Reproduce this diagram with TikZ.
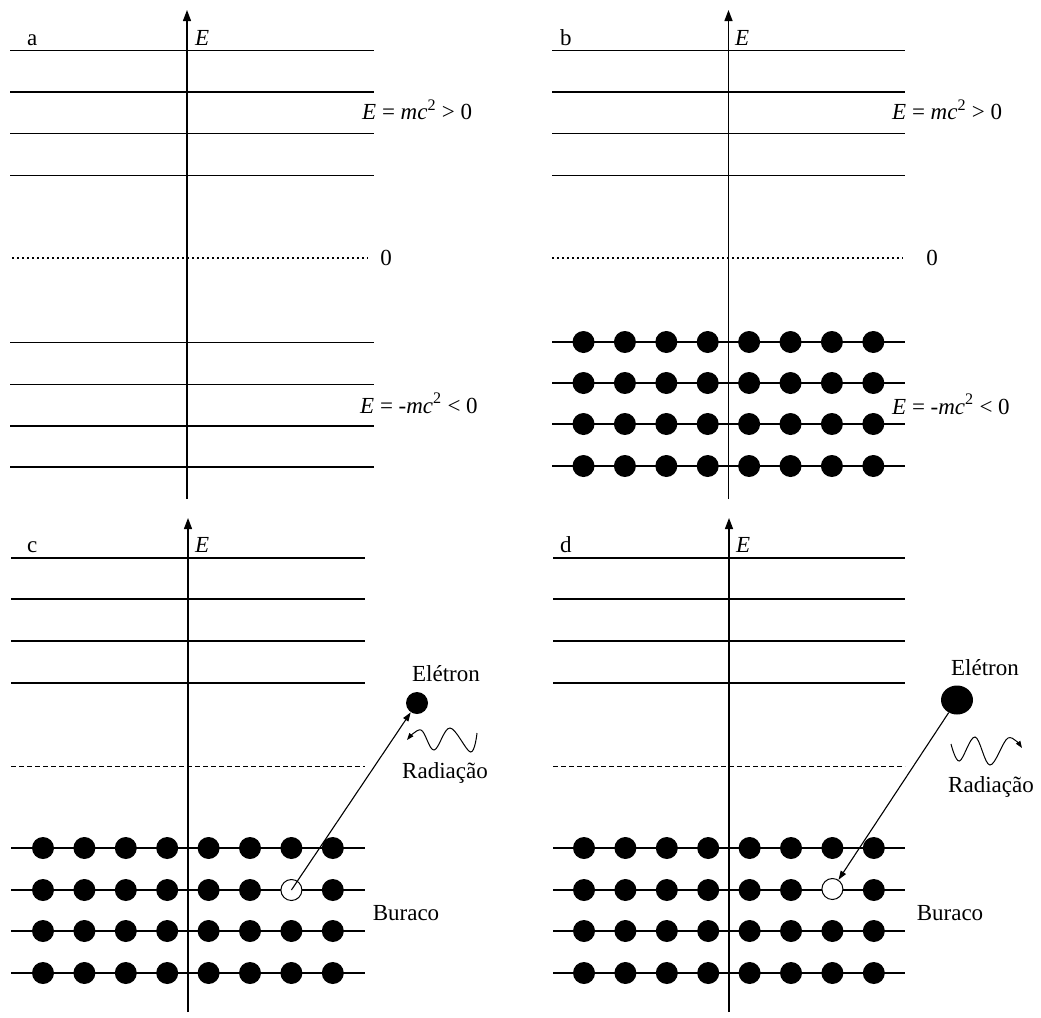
\documentclass[tikz,border=0pt]{standalone}
\usepackage{fontspec}
\setmainfont{Liberation Serif}
\usetikzlibrary{arrows.meta,shapes.geometric}
\begin{document}
\begin{tikzpicture}[x=1pt,y=-1pt,
  level/.style={line width=1.3pt},
  axisline/.style={line width=1.3pt,-{Triangle[width=8pt,length=11pt]}},
  zeroline/.style={line width=1.1pt,dash pattern=on 2pt off 3pt},
  vacline/.style={line width=0.9pt,dash pattern=on 5pt off 3pt},
  particle/.style={circle,fill=black,inner sep=0pt,minimum size=22pt},
  holeb/.style={circle,draw,fill=white,line width=1pt,inner sep=0pt,minimum size=21pt},
  lbl/.style={inner sep=0pt,font=\fontsize{23}{27}\selectfont},
  transition/.style={line width=1.1pt,-{Triangle[width=6pt,length=9pt]}},
  wave/.style={line width=1pt,-{Triangle[width=5pt,length=7pt]}},
]
\useasboundingbox (0,0) rectangle (1041,1017);

% ---------------- panel a ----------------
\foreach \y in {50.5,92,133.5,175.5,342.5,384.5,426,467}
  \draw[level] (10,\y) -- (374,\y);
\draw[zeroline] (12,258) -- (368,258);
\coordinate (a-bot) at (187,499);
\coordinate (a-top) at (187,10);
\draw[axisline] (a-bot) -- (a-top);
\node[lbl,anchor=base west] (a-lab) at (27,45) {a};
\node[lbl,anchor=base west] (a-E) at (195,45) {\textit{E}};
\node[lbl,anchor=base west] (a-pos) at (362,119.5) {\textit{E} = \textit{mc}\textsuperscript{2} > 0};
\node[lbl,anchor=base west] (a-neg) at (360,413) {\textit{E} = -\textit{mc}\textsuperscript{2} < 0};
\node[lbl] (a-zero) at (386,258) {0};

% ---------------- panel b ----------------
\foreach \y in {50.5,92,133.5,175.5,342,383,424,466}
  \draw[level] (552,\y) -- (905,\y);
\draw[zeroline] (552,258) -- (903,258);
\coordinate (b-bot) at (728.5,499);
\coordinate (b-top) at (728.5,10);
\draw[axisline] (b-bot) -- (b-top);
\foreach \r/\y in {1/342,2/383,3/424,4/466}
  \foreach \c in {0,...,7}
    \node[particle] (b-\r-\c) at ({583.5+41.4*\c},\y) {};
\node[lbl,anchor=base west] (b-lab) at (560,45) {b};
\node[lbl,anchor=base west] (b-E) at (735,45) {\textit{E}};
\node[lbl,anchor=base west] (b-pos) at (892,119.5) {\textit{E} = \textit{mc}\textsuperscript{2} > 0};
\node[lbl,anchor=base west] (b-neg) at (892,414) {\textit{E} = -\textit{mc}\textsuperscript{2} < 0};
\node[lbl] (b-zero) at (932,258) {0};

% ---------------- panel c ----------------
\foreach \y in {558,599,641,683,848,890,931,973}
  \draw[level] (11,\y) -- (365,\y);
\draw[vacline] (11,766) -- (365,766);
\coordinate (c-bot) at (188,1012);
\coordinate (c-top) at (188,518);
\draw[axisline] (c-bot) -- (c-top);
\foreach \r/\y in {1/848,2/890,3/931,4/973}
  \foreach \c in {0,...,7}{
    \ifnum\r=2 \ifnum\c=6 \else
      \node[particle] (c-\r-\c) at ({43+41.4*\c},\y) {};
    \fi\else
      \node[particle] (c-\r-\c) at ({43+41.4*\c},\y) {};
    \fi}
\node[holeb] (c-hole) at (291.4,890) {};
\node[particle] (c-el) at (417,703) {};
\draw[transition] (c-hole.center) -- (c-el);
\draw[wave] plot[smooth,tension=0.6] coordinates {(477,733) (470.5,752) (450,728) (434,750) (421,730) (407,740)};
\node[lbl,anchor=base west] (c-lab) at (27,552) {c};
\node[lbl,anchor=base west] (c-E) at (195,552) {\textit{E}};
\node[lbl,anchor=base] (c-eltxt) at (446,681) {Elétron};
\node[lbl,anchor=base] (c-radtxt) at (445,778) {Radiação};
\node[lbl,anchor=base] (c-burtxt) at (406,920) {Buraco};

% ---------------- panel d ----------------
\foreach \y in {558,599,641,683,848,890,931,973}
  \draw[level] (553,\y) -- (905,\y);
\draw[vacline] (553,766) -- (905,766);
\coordinate (d-bot) at (729,1012);
\coordinate (d-top) at (729,518);
\draw[axisline] (d-bot) -- (d-top);
\foreach \r/\y in {1/848,2/890,3/931,4/973}
  \foreach \c in {0,...,7}{
    \ifnum\r=2 \ifnum\c=6 \else
      \node[particle] (d-\r-\c) at ({584+41.4*\c},\y) {};
    \fi\else
      \node[particle] (d-\r-\c) at ({584+41.4*\c},\y) {};
    \fi}
\node[holeb] (d-hole) at (832.4,889) {};
\node[ellipse,fill=black,inner sep=0pt,minimum width=32pt,minimum height=29pt] (d-el) at (957,700) {};
\draw[transition] (d-el) -- (d-hole);
\draw[wave] plot[smooth,tension=0.6] coordinates {(951,744) (959.5,761) (975,737) (990,765) (1008,738) (1022,748)};
\node[lbl,anchor=base west] (d-lab) at (560,552) {d};
\node[lbl,anchor=base west] (d-E) at (736,552) {\textit{E}};
\node[lbl,anchor=base] (d-eltxt) at (985,675) {Elétron};
\node[lbl,anchor=base] (d-radtxt) at (991,792) {Radiação};
\node[lbl,anchor=base] (d-burtxt) at (950,920) {Buraco};
\end{tikzpicture}
\end{document}
